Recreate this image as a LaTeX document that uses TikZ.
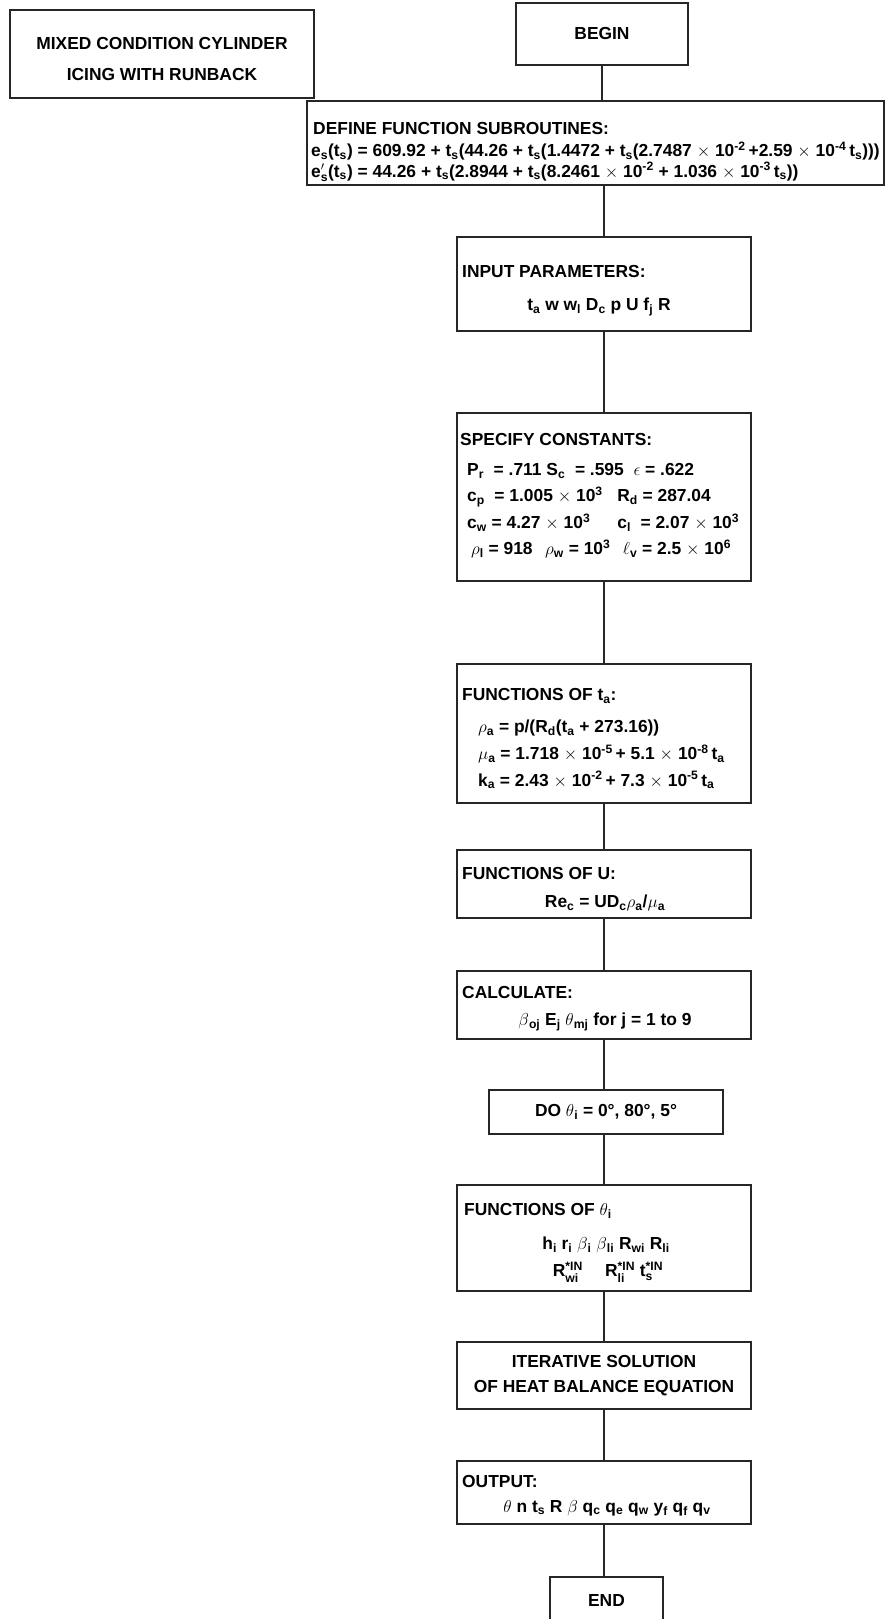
\documentclass[tikz,border=0pt]{standalone}
\usepackage{amsmath}
\usepackage{fontspec}
\setmainfont{Liberation Sans}
\newcommand{\lo}[1]{\textsubscript{#1}}
\newcommand{\hi}[1]{\textsuperscript{#1}}

\begin{document}
\begin{tikzpicture}[
  x=1pt, y=-1pt,
  font=\fontsize{17.4}{21}\selectfont\bfseries,
  box/.style={draw=black!85, line width=1.6pt, inner sep=0pt, align=center},
  link/.style={draw=black!85, line width=1.6pt},
  hd/.style={anchor=west, inner sep=0pt},
  txt/.style={inner sep=0pt},
]
  \useasboundingbox (0,0) rectangle (887,1619);

  % title and start
  \node[box, minimum width=304, minimum height=88] (title) at (162,54) {};
  \node[txt, align=center, font=\fontsize{17.4}{31}\selectfont\bfseries] (title-t) at (162,59)
    {MIXED CONDITION CYLINDER\\ICING WITH RUNBACK};
  \node[box, minimum width=172, minimum height=62] (begin) at (602,34) {BEGIN};

  % function subroutines
  \node[box, minimum width=577, minimum height=84] (def) at (595.5,143) {};
  \node[hd] (def-t) at (313,129) {DEFINE FUNCTION SUBROUTINES:};
  \node[hd] (def-1) at (311,151)
    {e\lo{s}(t\lo{s}) = 609.92 + t\lo{s}(44.26 + t\lo{s}(1.4472 + t\lo{s}(2.7487 $\times$ 10\hi{-2}\,+2.59 $\times$ 10\hi{-4}\,t\lo{s})))};
  \node[hd] (def-2) at (311,172)
    {e${}'_{\text{s}}$(t\lo{s}) = 44.26 + t\lo{s}(2.8944 + t\lo{s}(8.2461 $\times$ 10\hi{-2} + 1.036 $\times$ 10\hi{-3}\,t\lo{s}))};

  % input
  \node[box, minimum width=294, minimum height=94] (inp) at (604,284) {};
  \node[hd] (inp-t) at (462,272) {INPUT PARAMETERS:};
  \node[txt] (inp-1) at (599,307) {t\lo{a} w w\lo{l} D\lo{c} p U f\lo{j} R};

  % constants
  \node[box, minimum width=294, minimum height=168] (spc) at (604,497) {};
  \node[hd] (spc-t) at (460,440) {SPECIFY CONSTANTS:};
  \node[hd] (spc-1) at (467,471) {P\lo{r} \ = .711 S\lo{c} \ = .595 \ $\epsilon$ = .622};
  \node[hd] (spc-2) at (467,497) {c\lo{p} \ = 1.005 $\times$ 10\hi{3} \ \ R\lo{d} = 287.04};
  \node[hd] (spc-3) at (467,523) {c\lo{w} = 4.27 $\times$ 10\hi{3} \quad\ c\lo{l} \ = 2.07 $\times$ 10\hi{3}};
  \node[hd] (spc-4) at (471,549) {$\rho$\lo{l} = 918 \ \,$\rho$\lo{w} = 10\hi{3} \ \,$\ell$\lo{v} = 2.5 $\times$ 10\hi{6}};

  % functions of ta
  \node[box, minimum width=294, minimum height=139] (fta) at (604,733.5) {};
  \node[hd] (fta-t) at (462,696) {FUNCTIONS OF t\lo{a}:};
  \node[hd] (fta-1) at (478,728) {$\rho$\lo{a} = p/(R\lo{d}(t\lo{a} + 273.16))};
  \node[hd] (fta-2) at (478,754) {$\mu$\lo{a} = 1.718 $\times$ 10\hi{-5}\,+ 5.1 $\times$ 10\hi{-8}\,t\lo{a}};
  \node[hd] (fta-3) at (478,780) {k\lo{a} = 2.43 $\times$ 10\hi{-2}\,+ 7.3 $\times$ 10\hi{-5}\,t\lo{a}};

  % functions of U
  \node[box, minimum width=294, minimum height=68] (fu) at (604,884) {};
  \node[hd] (fu-t) at (462,873) {FUNCTIONS OF U:};
  \node[txt] (fu-1) at (605,903) {Re\lo{c} = UD\lo{c}$\rho$\lo{a}/$\mu$\lo{a}};

  % calculate
  \node[box, minimum width=294, minimum height=68] (calc) at (604,1005) {};
  \node[hd] (calc-t) at (462,992) {CALCULATE:};
  \node[txt] (calc-1) at (605,1022) {$\beta$\lo{oj} E\lo{j} $\theta$\lo{mj} for j = 1 to 9};

  % loop over theta
  \node[box, minimum width=234, minimum height=44] (do) at (606,1112) {DO $\theta$\lo{i} = 0°, 80°, 5°};

  \node[box, minimum width=294, minimum height=106] (fth) at (604,1238) {};
  \node[hd] (fth-t) at (464,1211) {FUNCTIONS OF $\theta$\lo{i}};
  \node[txt] (fth-1) at (606,1245) {h\lo{i} r\lo{i} $\beta$\lo{i} $\beta$\lo{li} R\lo{wi} R\lo{li}};
  \node[txt] (fth-2) at (608,1272)
    {R${}^{\text{*IN}}_{\text{wi}}$ \quad R${}^{\text{*IN}}_{\text{li}}$ t${}^{\text{*IN}}_{\text{s}}$};

  \node[box, minimum width=294, minimum height=67] (iter) at (604,1375.5)
    {ITERATIVE SOLUTION\\[4pt]OF HEAT BALANCE EQUATION};

  % output and end
  \node[box, minimum width=294, minimum height=63] (out) at (604,1492.5) {};
  \node[hd] (out-t) at (462,1481) {OUTPUT:};
  \node[txt] (out-1) at (607,1508)
    {$\theta$ n t\lo{s} R $\beta$ q\lo{c} q\lo{e} q\lo{w} y\lo{f} q\lo{f} q\lo{v}};
  \node[box, minimum width=113, minimum height=46] (end) at (606.5,1600) {END};

  % connectors
  \draw[link] (begin.south) -- (begin.south |- def.north);
  \draw[link] (inp.north) -- (inp.north |- def.south);
  \draw[link] (inp.south) -- (spc.north);
  \draw[link] (spc.south) -- (fta.north);
  \draw[link] (fta.south) -- (fu.north);
  \draw[link] (fu.south) -- (calc.north);
  \draw[link] (calc.south) -- (calc.south |- do.north);
  \draw[link] (do.south -| fth.north) -- (fth.north);
  \draw[link] (fth.south) -- (iter.north);
  \draw[link] (iter.south) -- (out.north);
  \draw[link] (out.south) -- (out.south |- end.north);
\end{tikzpicture}
\end{document}
